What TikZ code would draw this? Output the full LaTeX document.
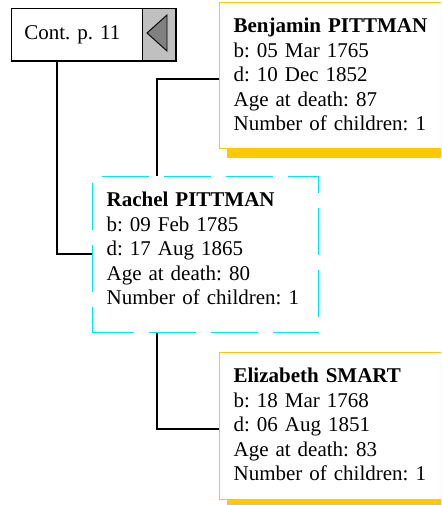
\documentclass[tikz,border=0pt]{standalone}
\usepackage{fontspec}
\setmainfont{Liberation Serif}
\frenchspacing
\usetikzlibrary{shadows}
\definecolor{famgold}{RGB}{255,200,0}
\definecolor{famcyan}{RGB}{0,230,240}
\definecolor{famgrey}{RGB}{192,192,192}
\definecolor{famdark}{RGB}{128,128,128}

\begin{document}
\begin{tikzpicture}[x=1pt, y=-1pt,
    person/.style={rectangle, anchor=north west, align=left, inner xsep=14pt, inner ysep=0pt,
        text height=30pt, font=\fontsize{21}{24.5}\selectfont},
    parent/.style={person, draw=famgold, fill=white, line width=1.2pt, text width=250pt,
        drop shadow={shadow xshift=7pt, shadow yshift=-9pt, fill=famgold, opacity=1}},
    link/.style={line width=1.3pt}]
                \useasboundingbox (0,0) rectangle (441,505);
                \clip (0,0) rectangle (441,505);
                \fill[white] (0,0) rectangle (441,505);

                % Connectors
                \coordinate (contfoot) at (57,60);
                \coordinate (upline) at (157,176);
                \coordinate (downline) at (157,332);
                \coordinate (benjamindoor) at (219,79);
                \coordinate (elizabethdoor) at (219,429);

                % Continuation button
                \node[draw, line width=0.8pt, fill=white, anchor=north west, minimum width=131pt,
                      minimum height=52pt, inner xsep=13pt, inner ysep=0pt, text width=105pt, align=left,
                      font=\fontsize{21}{24.5}\selectfont] (cont) at (11,8) {Cont. p. 11};
                \node[draw, line width=0.8pt, fill=famgrey, anchor=north west, minimum width=33pt,
                      minimum height=52pt, inner sep=0pt] (back) at (142,8) {};
                \filldraw[fill=famdark, line width=0.9pt] (147,33) -- (167,15) -- (167,51) -- cycle;
                \draw[line width=2.5pt] (cont.south west) -- (back.south east) -- (back.north east);

                % Lines
                \draw[link] (contfoot) |- (92,254) coordinate (racheldoor);
                \draw[link] (upline) |- (benjamindoor);
                \draw[link] (downline) |- (elizabethdoor);

                % Father
                \node[parent, text depth=116pt] (benjamin) at (219,2)
                    {\textbf{Benjamin PITTMAN}\\b: 05 Mar 1765\\d: 10 Dec 1852\\Age at death: 87\\Number of children: 1};

                % Mother
                \node[parent, text depth=117pt] (elizabeth) at (219,352)
                    {\textbf{Elizabeth SMART}\\b: 18 Mar 1768\\d: 06 Aug 1851\\Age at death: 83\\Number of children: 1};

                % Person
                \node[person, draw=famcyan, line width=1.2pt, dash pattern=on 47pt off 15pt, dash phase=6pt,
                      text width=198pt, text depth=126pt] (rachel) at (92,176)
                    {\textbf{Rachel PITTMAN}\\b: 09 Feb 1785\\d: 17 Aug 1865\\Age at death: 80\\Number of children: 1};
\end{tikzpicture}
\end{document}
